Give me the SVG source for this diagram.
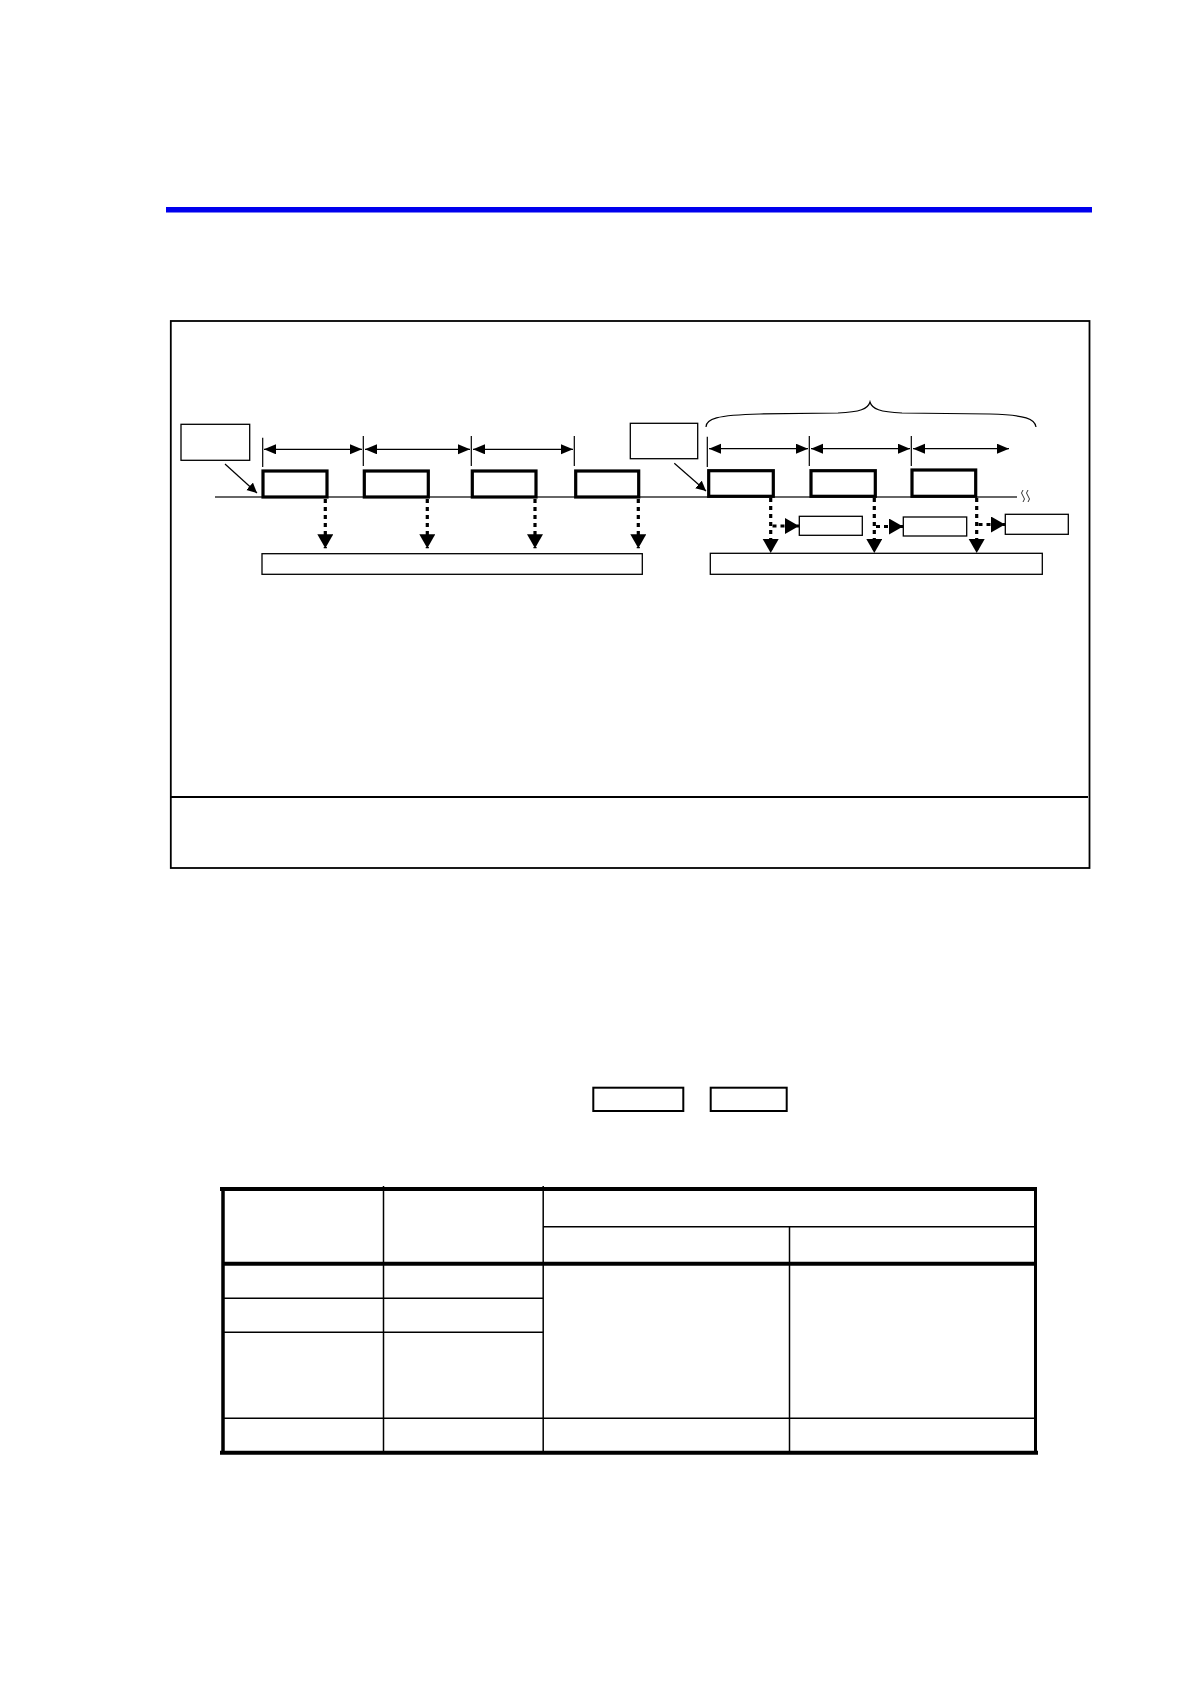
<svg xmlns="http://www.w3.org/2000/svg" width="1190" height="1684" viewBox="0 0 1190 1684">
<style>
.thin{fill:none;stroke:#000;stroke-width:1.2}
.box{fill:#fff;stroke:#000;stroke-width:1.3}
.pulse{fill:#fff;stroke:#000;stroke-width:3.2}
.dot{fill:none;stroke:#000;stroke-width:3.2;stroke-dasharray:4 4}
.tbl{fill:none;stroke:#000;stroke-width:1.5}
.tblk{fill:none;stroke:#000;stroke-width:4}
</style>
<defs>
<marker id="big" markerUnits="userSpaceOnUse" markerWidth="15" markerHeight="17" refX="14" refY="8" orient="auto"><path d="M0,0 L14,8 L0,16 z" fill="#000"/></marker>
<marker id="ah" markerUnits="userSpaceOnUse" markerWidth="13" markerHeight="11" refX="12" refY="5" orient="auto-start-reverse"><path d="M0,0 L12,5 L0,10 z" fill="#000"/></marker>
<marker id="sm" markerUnits="userSpaceOnUse" markerWidth="11" markerHeight="11" refX="10" refY="5" orient="auto"><path d="M0,0 L10,5 L0,10 z" fill="#000"/></marker>
</defs>
<rect id="header-bar" x="166" y="207" width="926" height="5.5" fill="#0000EE"/>
<g id="frame">
<rect x="170.8" y="321" width="918.7" height="547" fill="none" stroke="#000" stroke-width="1.8"/>
<line x1="170" y1="797" x2="1088" y2="797" stroke="#000" stroke-width="2.2"/>
</g>
<g id="baseline">
<line x1="215" y1="497" x2="1017" y2="497" stroke="#333" stroke-width="1.4"/>
<path d="M1023,490 q-3,3 0,6 t0,6 M1028,490 q-3,3 0,6 t0,6" fill="none" stroke="#333" stroke-width="1"/>
</g>
<g id="label-left"><rect class="box" x="181" y="424.3" width="68.7" height="36"/></g>
<g id="label-right"><rect class="box" x="630.3" y="423.3" width="67.4" height="35.4"/></g>
<g id="pulse1"><rect class="pulse" x="263" y="471" width="64" height="26"/></g>
<g id="pulse2"><rect class="pulse" x="364.3" y="471" width="64" height="26"/></g>
<g id="pulse3"><rect class="pulse" x="472.3" y="471" width="63.7" height="26"/></g>
<g id="pulse4"><rect class="pulse" x="575.7" y="471" width="63" height="26"/></g>
<g id="pulse5"><rect class="pulse" x="708.7" y="470.7" width="64.6" height="25.6"/></g>
<g id="pulse6"><rect class="pulse" x="811" y="470.7" width="64.3" height="25.6"/></g>
<g id="pulse7"><rect class="pulse" x="912" y="470" width="63.7" height="26.3"/></g>
<g id="bar-left"><rect class="box" x="262" y="553.7" width="380.3" height="20.6"/></g>
<g id="bar-right"><rect class="box" x="710.3" y="553.3" width="332" height="21"/></g>
<g id="out1"><rect class="box" x="799.3" y="516.3" width="63" height="19"/></g>
<g id="out2"><rect class="box" x="903.3" y="517" width="63.4" height="19"/></g>
<g id="out3"><rect class="box" x="1005.3" y="514.3" width="63" height="20"/></g>
<g id="brace"><path class="thin" d="M706,427 C706,419 716,415 760,414 L838,413 C860,412 868,409 870,402 C872,409 880,412 902,413 L990,414 C1026,415 1035,419 1036,427"/></g>
<g id="connectors">
<g class="thin">
<line x1="262.7" y1="437.7" x2="262.7" y2="467"/>
<line x1="363.3" y1="436" x2="363.3" y2="466"/>
<line x1="471.3" y1="436" x2="471.3" y2="466"/>
<line x1="574.3" y1="436" x2="574.3" y2="466"/>
<line x1="707.3" y1="436.7" x2="707.3" y2="467"/>
<line x1="809.3" y1="436" x2="809.3" y2="466"/>
<line x1="911.3" y1="436" x2="911.3" y2="466"/>
</g>
<g class="thin" marker-start="url(#ah)" marker-end="url(#ah)">
<line x1="264" y1="449.3" x2="362" y2="449.3"/>
<line x1="365" y1="449.3" x2="470" y2="449.3"/>
<line x1="473" y1="449.3" x2="573" y2="449.3"/>
<line x1="709" y1="448.7" x2="808" y2="448.7"/>
<line x1="811" y1="448.7" x2="910" y2="448.7"/>
<line x1="913" y1="448.7" x2="1009" y2="448.7"/>
</g>
<line class="thin" x1="225" y1="464" x2="257" y2="493" marker-end="url(#sm)"/>
<line class="thin" x1="674.3" y1="463.3" x2="706" y2="491" marker-end="url(#sm)"/>
<g class="dot" marker-end="url(#big)">
<line x1="325.3" y1="499" x2="325.3" y2="548.3"/>
<line x1="427.3" y1="499" x2="427.3" y2="548.3"/>
<line x1="535" y1="499" x2="535" y2="548.3"/>
<line x1="638.3" y1="499" x2="638.3" y2="548.3"/>
<line x1="770.7" y1="498" x2="770.7" y2="553"/>
<line x1="874.3" y1="498" x2="874.3" y2="553"/>
<line x1="976.7" y1="498" x2="976.7" y2="553"/>
<line x1="772.5" y1="526" x2="799" y2="526"/>
<line x1="876" y1="526.5" x2="903" y2="526.5"/>
<line x1="978.5" y1="524.5" x2="1005" y2="524.5"/>
</g>
</g>
<g id="key1"><rect x="593.3" y="1087.7" width="90" height="23.3" fill="none" stroke="#000" stroke-width="2"/></g>
<g id="key2"><rect x="710.7" y="1087.7" width="76" height="23.3" fill="none" stroke="#000" stroke-width="2"/></g>
<g id="table">
<line class="tbl" x1="383.5" y1="1186" x2="383.5" y2="1451"/>
<line class="tbl" x1="543.2" y1="1186" x2="543.2" y2="1451"/>
<line class="tbl" x1="789.5" y1="1226.7" x2="789.5" y2="1451"/>
<line class="tbl" x1="543" y1="1226.7" x2="1035" y2="1226.7"/>
<line class="tbl" x1="222" y1="1298.3" x2="543" y2="1298.3"/>
<line class="tbl" x1="222" y1="1332.3" x2="543" y2="1332.3"/>
<line class="tbl" x1="222" y1="1418.3" x2="1035" y2="1418.3"/>
<line class="tblk" x1="220" y1="1189" x2="1037" y2="1189"/>
<line class="tblk" x1="222" y1="1263.7" x2="1035" y2="1263.7"/>
<line class="tblk" x1="220" y1="1452.7" x2="1038" y2="1452.7"/>
<line x1="223" y1="1187" x2="223" y2="1451" stroke="#000" stroke-width="3.5"/>
<line x1="1035.5" y1="1187" x2="1035.5" y2="1451" stroke="#000" stroke-width="3"/>
</g>
</svg>
